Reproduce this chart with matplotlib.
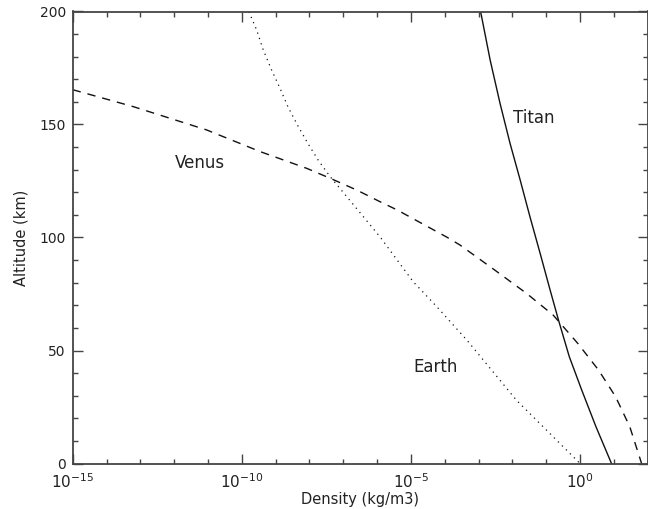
import matplotlib
matplotlib.use('Agg')
import matplotlib.pyplot as plt
from matplotlib.ticker import FixedLocator, MultipleLocator, NullFormatter


# profiles: altitude (km) and density (kg/m3)
earth_alt = [199.9, 191.8, 183, 174.1, 166, 157.9, 149.8, 141.7, 134.3, 126.9,
             117.3, 100, 80.4, 69.4, 54.6, 28.1, 1.5, 0]
earth_rho = [1.62e-10, 2.75e-10, 4.3e-10, 7.6e-10, 1.35e-9, 2.3e-9, 4.4e-9, 8.9e-9,
             1.8e-8, 4.1e-8, 1.4e-7, 1.26e-6, 1.17e-5, 5.8e-5, 4.5e-4, 1.3e-2, 0.79, 1.0]

venus_alt = [165.4, 157.9, 147.6, 138.0, 130.6, 126.2, 121.0, 115.8, 112.2, 100.1,
             96.7, 85.6, 75.3, 65.7, 53.2, 41.4, 29.6, 16.3, 0]
venus_rho = [1.0e-15, 6.2e-14, 9.1e-12, 3.5e-10, 8.3e-9, 4.1e-8, 2.5e-7, 1.23e-6,
             3.9e-6, 1.17e-4, 2.8e-4, 3.0e-3, 2.6e-2, 0.16, 0.85, 3.5, 11.2, 29.5, 66]

titan_alt = [199.9, 178.5, 159.4, 141.7, 125.4, 109.2, 93.0, 76.8, 63.5, 47.3,
             32.5, 16.3, 0]
titan_rho = [1.15e-3, 2.2e-3, 4.3e-3, 8.5e-3, 1.7e-2, 3.3e-2, 6.6e-2, 0.13, 0.23,
             0.48, 1.12, 2.95, 8.5]

labels = ['Titan', 'Venus', 'Earth']
label_x = [0.044, 5.6e-12, 5.2e-5]
label_y = [153, 133, 42.5]

xticks = [1e-15, 1e-10, 1e-5, 1e0]
xtick_labels = [r'$10^{-15}$', r'$10^{-10}$', r'$10^{-5}$', r'$10^{0}$']
xminor = [10.0 ** k for k in range(-15, 3)]
yticks = [0, 50, 100, 150, 200]

AXIS_COLOR = '#444444'
LINE_COLOR = '#111111'


fig = plt.figure(figsize=(6.48, 5.09), dpi=100)
ax = fig.add_axes([72.7 / 648, 45.5 / 509, 575 / 648, 452 / 509])

ax.plot(earth_rho, earth_alt, color=LINE_COLOR, lw=0.9, linestyle=(0, (1, 3.5)))
ax.plot(venus_rho, venus_alt, color=LINE_COLOR, lw=1.0, linestyle=(0, (6, 5)))
ax.plot(titan_rho, titan_alt, color=LINE_COLOR, lw=1.0)

ax.set_xscale('log')
ax.set_xlim(1e-15, 1e2)
ax.set_ylim(0, 200)

ax.xaxis.set_major_locator(FixedLocator(xticks))
ax.set_xticklabels(xtick_labels)
ax.xaxis.set_minor_locator(FixedLocator(xminor))
ax.xaxis.set_minor_formatter(NullFormatter())
ax.set_yticks(yticks)
ax.yaxis.set_minor_locator(MultipleLocator(10))

ax.tick_params(which='both', direction='in', top=True, right=True,
               color=AXIS_COLOR, width=1.0, labelcolor='#222222')
ax.tick_params(which='major', length=7)
ax.tick_params(which='minor', length=3.8)
ax.tick_params(axis='x', which='major', labelsize=11, pad=6)
ax.tick_params(axis='y', which='major', labelsize=10, pad=5)
for s in ax.spines.values():
    s.set_color(AXIS_COLOR)
    s.set_linewidth(1.3)

for name, x, y in zip(labels, label_x, label_y):
    ax.text(x, y, name, fontsize=12, color='#222222', ha='center', va='center')

ax.set_xlabel('Density (kg/m3)', fontsize=10.5, color='#222222', labelpad=1)
ax.set_ylabel('Altitude (km)', fontsize=10.5, color='#222222', labelpad=8)

fig.savefig('out.png', dpi=100)
